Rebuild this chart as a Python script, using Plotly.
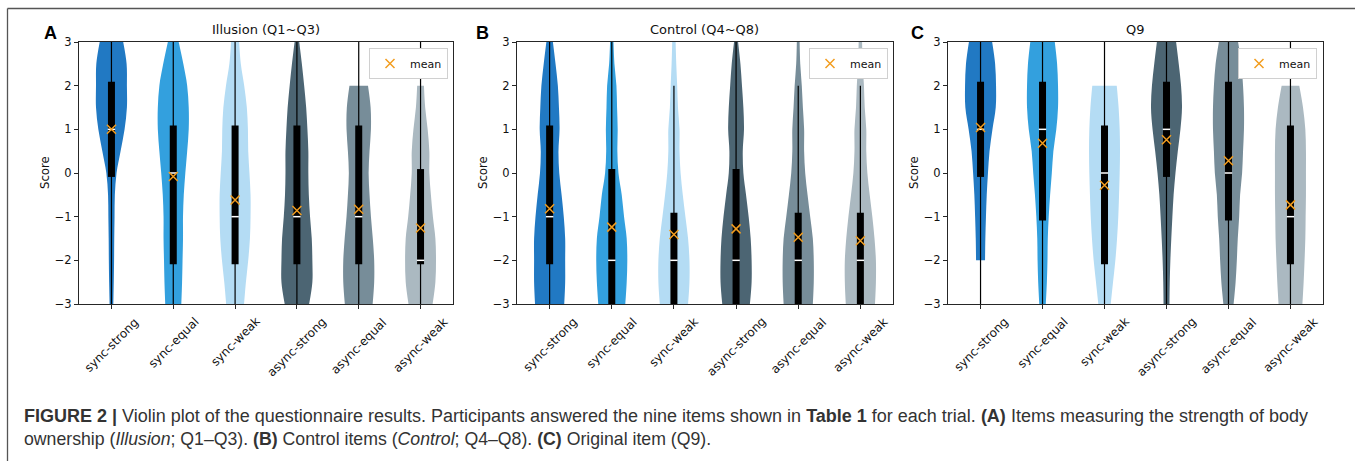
import plotly.graph_objects as go

W, H = 1355, 461

categories = ["sync-strong", "sync-equal", "sync-weak", "async-strong", "async-equal", "async-weak"]
positions = [1, 2, 3, 4, 5, 6]
violin_colors = ["#2179c3", "#33a0de", "#b4dcf4", "#4c6573", "#778d99", "#abb9c1"]
score_levels = [-3, -2.5, -2, -1.5, -1, -0.5, 0, 0.5, 1, 1.5, 2, 2.5, 3]
y_tick_vals = [-3, -2, -1, 0, 1, 2, 3]
y_tick_text = ["\u22123", "\u22122", "\u22121", "0", "1", "2", "3"]
panel_titles = ["Illusion (Q1~Q3)", "Control (Q4~Q8)", "Q9"]
panel_letters = ["A", "B", "C"]

# relative violin width (density) at each score level, bottom (-3) to top (3); None = outside data range
illusion_density = [
    [0.12, 0.15, 0.17, 0.18, 0.2, 0.22, 0.33, 0.59, 0.85, 1.0, 1.0, 0.98, 0.76],
    [0.52, 0.57, 0.6, 0.63, 0.63, 0.68, 0.78, 0.9, 1.0, 1.0, 0.9, 0.65, 0.35],
    [0.58, 0.7, 0.85, 0.96, 1.0, 1.0, 0.93, 0.85, 0.83, 0.76, 0.59, 0.37, 0.26],
    [0.79, 1.0, 1.0, 0.96, 0.85, 0.77, 0.74, 0.74, 0.68, 0.6, 0.47, 0.32, 0.15],
    [0.9, 1.0, 1.0, 0.91, 0.79, 0.7, 0.64, 0.7, 0.79, 0.77, 0.6, None, None],
    [0.78, 0.96, 1.0, 0.96, 0.8, 0.67, 0.57, 0.57, 0.46, 0.3, 0.22, None, None],
]
control_density = [
    [0.94, 1.0, 1.0, 1.0, 0.91, 0.77, 0.62, 0.57, 0.64, 0.6, 0.53, 0.38, 0.21],
    [0.87, 0.96, 1.0, 0.96, 0.79, 0.64, 0.43, 0.36, 0.38, 0.34, 0.3, 0.17, 0.11],
    [0.91, 1.0, 1.0, 0.91, 0.74, 0.57, 0.43, 0.36, 0.36, 0.26, 0.21, 0.15, 0.11],
    [0.89, 1.0, 1.0, 0.94, 0.81, 0.64, 0.47, 0.43, 0.51, 0.47, 0.38, 0.28, 0.13],
    [0.94, 1.0, 1.0, 0.94, 0.77, 0.6, 0.45, 0.38, 0.38, 0.3, 0.23, 0.13, 0.09],
    [0.94, 1.0, 1.0, 0.91, 0.77, 0.6, 0.45, 0.38, 0.38, 0.28, 0.23, 0.15, 0.11],
]
q9_density = [
    [None, None, 0.29, 0.31, 0.35, 0.4, 0.48, 0.58, 0.77, 0.98, 1.0, 0.94, 0.75],
    [0.21, 0.28, 0.32, 0.34, 0.4, 0.49, 0.6, 0.7, 0.89, 1.0, 1.0, 0.94, 0.79],
    [0.4, 0.55, 0.7, 0.81, 0.89, 0.94, 0.98, 1.0, 0.98, 0.91, 0.79, None, None],
    [0.19, 0.21, 0.25, 0.31, 0.38, 0.46, 0.58, 0.73, 0.9, 1.0, 0.94, 0.79, 0.62],
    [0.33, 0.46, 0.54, 0.6, 0.69, 0.75, 0.88, 0.94, 1.0, 1.0, 0.94, 0.83, 0.62],
    [0.77, 0.85, 0.91, 0.96, 0.98, 1.0, 1.0, 1.0, 0.96, 0.81, 0.57, None, None],
]

illusion_q1 = [0, -2, -2, -2, -2, -2]
illusion_q3 = [2, 1, 1, 1, 1, 0]
illusion_median = [1, 0, -1, -1, -1, -2]
illusion_mean = [1.0, -0.08, -0.62, -0.86, -0.83, -1.26]
illusion_whisker_lo = [-3, -3, -3, -3, -3, -3]
illusion_whisker_hi = [3, 3, 3, 3, 3, 3]

control_q1 = [-2, -3, -3, -3, -3, -3]
control_q3 = [1, 0, -1, 0, -1, -1]
control_median = [-1, -2, -2, -2, -2, -2]
control_mean = [-0.82, -1.24, -1.41, -1.28, -1.47, -1.55]
control_whisker_lo = [-3, -3, -3, -3, -3, -3]
control_whisker_hi = [3, 3, 2, 3, 2, 2]

q9_q1 = [0, -1, -2, 0, -1, -2]
q9_q3 = [2, 2, 1, 2, 2, 1]
q9_median = [1, 1, 0, 1, 0, -1]
q9_mean = [1.04, 0.68, -0.28, 0.76, 0.28, -0.73]
q9_whisker_lo = [-3, -3, -3, -3, -3, -3]
q9_whisker_hi = [3, 3, 3, 3, 3, 3]

caption_line1 = ("<b>FIGURE 2 |</b> Violin plot of the questionnaire results. Participants answered the nine items "
                 "shown in <b>Table 1</b> for each trial. <b>(A)</b> Items measuring the strength of body")
caption_line2 = ("ownership (<i>Illusion</i>; Q1\u2013Q3). <b>(B)</b> Control items (<i>Control</i>; Q4\u2013Q8). "
                 "<b>(C)</b> Original item (Q9).")

# ---------------- layout / style constants ----------------
HALF_WIDTH = 0.25
BOX_PAD = 0.09
MEDIAN_HALF = 0.06
MEAN_COLOR = "#f29d1f"
AXIS_COLOR = "#262626"
FONT = "DejaVu Sans"

panel_px = [(79, 453), (517, 893), (948, 1323)]
plot_top, plot_bottom = 42, 304
legend_right = [448, 888, 1317]
legend_top = 48
letter_x = [50, 482, 917]


def fx(p):
    return p / W


def fy(p):
    return 1 - p / H


panels = [
    (illusion_density, illusion_q1, illusion_q3, illusion_median, illusion_mean, illusion_whisker_lo, illusion_whisker_hi),
    (control_density, control_q1, control_q3, control_median, control_mean, control_whisker_lo, control_whisker_hi),
    (q9_density, q9_q1, q9_q3, q9_median, q9_mean, q9_whisker_lo, q9_whisker_hi),
]

fig = go.Figure()
annotations = []
layout_axes = {}

for pi, (dens, q1, q3, med, mean, wlo, whi) in enumerate(panels):
    sfx = "" if pi == 0 else str(pi + 1)
    xa, ya = "x" + sfx, "y" + sfx
    # violins
    for ci, pos in enumerate(positions):
        ys = [s for s, d in zip(score_levels, dens[ci]) if d is not None]
        ds = [d for d in dens[ci] if d is not None]
        left = [pos - HALF_WIDTH * d for d in ds]
        right = [pos + HALF_WIDTH * d for d in ds]
        fig.add_trace(go.Scatter(x=left, y=ys, mode="lines", line=dict(width=0, shape="spline", smoothing=1.0,
                                                                        color=violin_colors[ci]),
                                 xaxis=xa, yaxis=ya, showlegend=False, hoverinfo="skip"))
        fig.add_trace(go.Scatter(x=right, y=ys, mode="lines", line=dict(width=0, shape="spline", smoothing=1.0,
                                                                         color=violin_colors[ci]),
                                 fill="tonextx", fillcolor=violin_colors[ci],
                                 xaxis=xa, yaxis=ya, showlegend=False, hoverinfo="skip"))
    # whiskers
    wx, wy = [], []
    for ci, pos in enumerate(positions):
        wx += [pos, pos, None]
        wy += [wlo[ci], whi[ci], None]
    fig.add_trace(go.Scatter(x=wx, y=wy, mode="lines", line=dict(color="black", width=1.2),
                             xaxis=xa, yaxis=ya, showlegend=False, hoverinfo="skip"))
    # boxes
    bx, by = [], []
    for ci, pos in enumerate(positions):
        bx += [pos, pos, None]
        by += [q1[ci] - BOX_PAD, q3[ci] + BOX_PAD, None]
    fig.add_trace(go.Scatter(x=bx, y=by, mode="lines", line=dict(color="black", width=7),
                             xaxis=xa, yaxis=ya, showlegend=False, hoverinfo="skip"))
    # medians
    mx, my = [], []
    for ci, pos in enumerate(positions):
        mx += [pos - MEDIAN_HALF, pos + MEDIAN_HALF, None]
        my += [med[ci], med[ci], None]
    fig.add_trace(go.Scatter(x=mx, y=my, mode="lines", line=dict(color="white", width=1.5),
                             xaxis=xa, yaxis=ya, showlegend=False, hoverinfo="skip"))
    # means
    lg = "legend" if pi == 0 else "legend" + str(pi + 1)
    fig.add_trace(go.Scatter(x=positions, y=mean, mode="markers", name="mean",
                             marker=dict(symbol="x-thin", size=9, color=MEAN_COLOR,
                                         line=dict(color=MEAN_COLOR, width=1.5)),
                             xaxis=xa, yaxis=ya, showlegend=True, legend=lg))

    x0, x1 = panel_px[pi]
    layout_axes["xaxis" + sfx] = dict(domain=[fx(x0), fx(x1)], range=[0.475, 6.525], anchor=ya,
                                      tickvals=positions, showticklabels=False, ticks="outside", ticklen=4,
                                      tickcolor=AXIS_COLOR, showline=True, mirror=True, linecolor=AXIS_COLOR,
                                      linewidth=1, showgrid=False, zeroline=False, fixedrange=True,
                                      automargin=False)
    layout_axes["yaxis" + sfx] = dict(domain=[fy(plot_bottom), fy(plot_top)], range=[-3, 3], anchor=xa,
                                      tickvals=y_tick_vals, ticktext=y_tick_text, ticks="outside", ticklen=4,
                                      tickcolor=AXIS_COLOR, showline=True, mirror=True, linecolor=AXIS_COLOR,
                                      linewidth=1, showgrid=False, zeroline=False,
                                      tickfont=dict(family=FONT, size=11.5, color="#111"), fixedrange=True,
                                      automargin=False)
    layout_axes[lg] = dict(x=fx(legend_right[pi]), xanchor="right", y=fy(legend_top), yanchor="top",
                           xref="container", yref="container",
                           bgcolor="white", bordercolor="#d0d0d0", borderwidth=1,
                           font=dict(family=FONT, size=11, color="#111"), itemwidth=30)

    # category labels, rotated
    for ci, pos in enumerate(positions):
        annotations.append(dict(x=pos, y=fy(312), xref=xa, yref="paper", text=categories[ci],
                                textangle=-45, xanchor="center", yanchor="top", showarrow=False,
                                font=dict(family=FONT, size=12, color="#111")))
    # titles
    annotations.append(dict(x=fx((x0 + x1) / 2), y=fy(30), xref="paper", yref="paper", text=panel_titles[pi],
                            xanchor="center", yanchor="middle", showarrow=False,
                            font=dict(family=FONT, size=13, color="#111")))
    annotations.append(dict(x=fx(x0 - 34), y=fy((plot_top + plot_bottom) / 2), xref="paper", yref="paper",
                            text="Score", textangle=-90, xanchor="center", yanchor="middle", showarrow=False,
                            font=dict(family=FONT, size=11.7, color="#111")))
    annotations.append(dict(x=fx(letter_x[pi]), y=fy(33), xref="paper", yref="paper",
                            text="<b>" + panel_letters[pi] + "</b>", xanchor="center", yanchor="middle",
                            showarrow=False, font=dict(family="Liberation Sans", size=18, color="black")))

annotations.append(dict(x=fx(22), y=fy(416), xref="paper", yref="paper", text=caption_line1, xanchor="left",
                        yanchor="middle", showarrow=False, align="left",
                        font=dict(family="Liberation Sans", size=18, color="#333")))
annotations.append(dict(x=fx(22), y=fy(439), xref="paper", yref="paper", text=caption_line2, xanchor="left",
                        yanchor="middle", showarrow=False, align="left",
                        font=dict(family="Liberation Sans", size=17.7, color="#333")))

shapes = [
    dict(type="line", xref="paper", yref="paper", x0=fx(7.5), x1=1, y0=fy(8.5), y1=fy(8.5),
         line=dict(color="#555", width=1.3)),
    dict(type="line", xref="paper", yref="paper", x0=fx(7.5), x1=fx(7.5), y0=fy(8.5), y1=0,
         line=dict(color="#555", width=1.3)),
]

fig.update_layout(width=W, height=H, autosize=False, margin=dict(l=0, r=0, t=0, b=0, autoexpand=False),
                  paper_bgcolor="white", plot_bgcolor="white", annotations=annotations, shapes=shapes,
                  font=dict(family=FONT), hovermode=False, **layout_axes)

fig.write_html("out.html", config={"displayModeBar": False},
               post_script="document.body.style.margin='0';document.body.style.overflow='hidden';")
